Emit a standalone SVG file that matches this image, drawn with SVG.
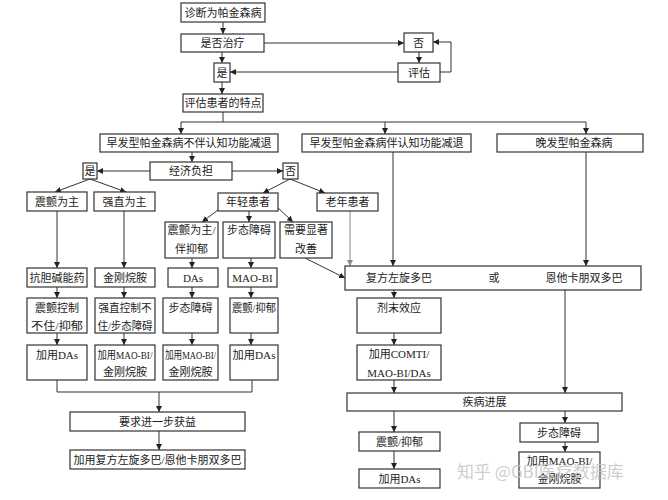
<svg xmlns="http://www.w3.org/2000/svg" width="668" height="500" viewBox="0 0 668 500">
<defs>
<marker id="ah" viewBox="0 0 6 6" refX="6" refY="3" markerWidth="6" markerHeight="6" orient="auto" markerUnits="userSpaceOnUse">
<path d="M0,0 L6,3 L0,6 z" fill="#222"/>
</marker>
<marker id="ahg" viewBox="0 0 6 6" refX="6" refY="3" markerWidth="6" markerHeight="6" orient="auto" markerUnits="userSpaceOnUse">
<path d="M0,0 L6,3 L0,6 z" fill="#888"/>
</marker>
</defs>
<style>
rect{fill:#fff;stroke:#333;stroke-width:1.2}
text{font-family:"Liberation Serif","Noto Sans CJK SC",serif;font-size:11px;fill:#222;text-anchor:middle}
.c line,.c polyline{stroke:#333;stroke-width:1;fill:none}
.c .a{marker-end:url(#ah)}
.c .g{stroke:#888;marker-end:url(#ahg)}
.wm{font-family:"Noto Sans CJK SC",sans-serif;font-size:17px;fill:#c4c4c4;fill-opacity:0.85;text-anchor:start}
</style>
<rect x="0" y="0" width="668" height="500" style="fill:#fff;stroke:none"/>
<g class="c" id="connectors">
<line class="a" x1="223" y1="22" x2="223" y2="34"/>
<line class="a" x1="264" y1="43" x2="404" y2="43"/>
<line class="a" x1="222" y1="52" x2="222" y2="63"/>
<line class="a" x1="419" y1="52" x2="419" y2="63"/>
<line class="a" x1="398" y1="72" x2="230" y2="72"/>
<polyline class="a" points="440,72 451,72 451,42 433,42"/>
<line class="a" x1="222" y1="82" x2="222" y2="94"/>
<line x1="223" y1="112" x2="223" y2="122"/>
<line x1="181" y1="122" x2="586" y2="122"/>
<line class="a" x1="181" y1="122" x2="181" y2="134"/>
<line class="a" x1="385" y1="122" x2="385" y2="134"/>
<line class="a" x1="586" y1="122" x2="586" y2="134"/>
<line class="a" x1="192" y1="152" x2="192" y2="162"/>
<line class="a" x1="150" y1="171" x2="97" y2="171"/>
<line class="a" x1="232" y1="171" x2="283" y2="171"/>
<line class="a" x1="90" y1="179" x2="55" y2="192"/>
<line class="a" x1="90" y1="179" x2="126" y2="192"/>
<line class="a" x1="290" y1="179" x2="263" y2="193"/>
<line class="a" x1="290" y1="179" x2="325" y2="193"/>
<line class="a" x1="222" y1="207" x2="202" y2="222"/>
<line class="a" x1="249" y1="211" x2="249" y2="222"/>
<line class="a" x1="277" y1="207" x2="293" y2="222"/>
<line class="a" x1="57" y1="211" x2="57" y2="268"/>
<line class="a" x1="124" y1="211" x2="124" y2="268"/>
<line class="a" x1="192" y1="258" x2="192" y2="268"/>
<line class="a" x1="251" y1="258" x2="251" y2="268"/>
<line class="a" x1="57" y1="287" x2="57" y2="298"/>
<line class="a" x1="124" y1="287" x2="124" y2="298"/>
<line class="a" x1="192" y1="287" x2="192" y2="298"/>
<line class="a" x1="251" y1="287" x2="251" y2="298"/>
<line class="a" x1="57" y1="333" x2="57" y2="345"/>
<line class="a" x1="124" y1="333" x2="124" y2="345"/>
<line class="a" x1="192" y1="333" x2="192" y2="345"/>
<line class="a" x1="251" y1="333" x2="251" y2="345"/>
<polyline points="57,380 57,392 252,392 252,380"/>
<line class="a" x1="159" y1="392" x2="159" y2="412"/>
<line class="a" x1="159" y1="431" x2="159" y2="450"/>
<line class="g" x1="350" y1="211" x2="350" y2="266"/>
<line class="a" x1="305" y1="258" x2="345" y2="278"/>
<line class="a" x1="393" y1="152" x2="393" y2="266"/>
<line class="a" x1="586" y1="152" x2="586" y2="266"/>
<line class="a" x1="394" y1="290" x2="394" y2="298"/>
<line class="a" x1="394" y1="333" x2="394" y2="345"/>
<line class="a" x1="394" y1="380" x2="394" y2="393"/>
<line class="a" x1="394" y1="411" x2="394" y2="432"/>
<line class="a" x1="394" y1="451" x2="394" y2="469"/>
<line class="a" x1="565" y1="290" x2="565" y2="393"/>
<line class="a" x1="565" y1="411" x2="565" y2="423"/>
<line class="a" x1="565" y1="442" x2="565" y2="452"/>
</g>
<g id="n1"><rect x="181" y="3" width="84" height="19"/><text x="223" y="16.5">诊断为帕金森病</text></g>
<g id="n2"><rect x="181" y="34" width="83" height="18"/><text x="222.5" y="47">是否治疗</text></g>
<g id="n3"><rect x="214" y="63" width="16" height="19"/><text x="222" y="76.5">是</text></g>
<g id="n4"><rect x="404" y="33" width="29" height="19"/><text x="418.5" y="46.5">否</text></g>
<g id="n5"><rect x="398" y="63" width="42" height="19"/><text x="419" y="76.5">评估</text></g>
<g id="n6"><rect x="183" y="94" width="80" height="18"/><text x="223" y="107">评估患者的特点</text></g>
<g id="n7"><rect x="100" y="134" width="178" height="18"/><text x="189" y="147">早发型帕金森病不伴认知功能减退</text></g>
<g id="n8"><rect x="302" y="134" width="169" height="18"/><text x="386.5" y="147">早发型帕金森病伴认知功能减退</text></g>
<g id="n9"><rect x="497" y="134" width="146" height="18"/><text x="574" y="147">晚发型帕金森病</text></g>
<g id="n10"><rect x="150" y="162" width="82" height="18"/><text x="191" y="175">经济负担</text></g>
<g id="n11"><rect x="83" y="163" width="14" height="16"/><text x="90" y="175">是</text></g>
<g id="n12"><rect x="283" y="163" width="15" height="16"/><text x="290.5" y="175">否</text></g>
<g id="n13"><rect x="27" y="192" width="60" height="19"/><text x="57" y="205.5">震颤为主</text></g>
<g id="n14"><rect x="94" y="192" width="61" height="19"/><text x="124.5" y="205.5">强直为主</text></g>
<g id="n15"><rect x="218" y="193" width="60" height="18"/><text x="248" y="206">年轻患者</text></g>
<g id="n16"><rect x="317" y="193" width="61" height="18"/><text x="347.5" y="206">老年患者</text></g>
<g id="n17"><rect x="165" y="222" width="53" height="36"/><text x="191.5" y="234" textLength="48" lengthAdjust="spacingAndGlyphs">震颤为主/</text><text x="191.5" y="253">伴抑郁</text></g>
<g id="n18"><rect x="223" y="222" width="52" height="36"/><text x="249" y="234">步态障碍</text></g>
<g id="n19"><rect x="280" y="222" width="52" height="36"/><text x="306" y="234">需要显著</text><text x="306" y="253">改善</text></g>
<g id="n20"><rect x="27" y="268" width="60" height="19"/><text x="57" y="281.5">抗胆碱能药</text></g>
<g id="n21"><rect x="95" y="268" width="60" height="19"/><text x="125" y="281.5">金刚烷胺</text></g>
<g id="n22"><rect x="168" y="268" width="50" height="19"/><text x="193" y="281.5">DAs</text></g>
<g id="n23"><rect x="228" y="268" width="49" height="19"/><text x="252.5" y="281.5">MAO-BI</text></g>
<g id="n24"><rect x="345" y="266" width="296" height="24"/><text x="399" y="282">复方左旋多巴</text><text x="494" y="282">或</text><text x="584" y="282">恩他卡朋双多巴</text></g>
<g id="n25"><rect x="27" y="298" width="60" height="35"/><text x="57" y="312">震颤控制</text><text x="57" y="330" textLength="52" lengthAdjust="spacingAndGlyphs">不住/抑郁</text></g>
<g id="n26"><rect x="95" y="298" width="60" height="35"/><text x="125" y="312" textLength="53" lengthAdjust="spacingAndGlyphs">强直控制不</text><text x="125" y="330" textLength="55" lengthAdjust="spacingAndGlyphs">住/步态障碍</text></g>
<g id="n27"><rect x="163" y="298" width="55" height="35"/><text x="190.5" y="312">步态障碍</text></g>
<g id="n28"><rect x="230" y="298" width="48" height="35"/><text x="254" y="312" textLength="44" lengthAdjust="spacingAndGlyphs">震颤/抑郁</text></g>
<g id="n29"><rect x="357" y="298" width="84" height="35"/><text x="399" y="312">剂末效应</text></g>
<g id="n30"><rect x="27" y="345" width="60" height="35"/><text x="57" y="359">加用DAs</text></g>
<g id="n31"><rect x="95" y="345" width="60" height="35"/><text x="125" y="359" textLength="55" lengthAdjust="spacingAndGlyphs">加用MAO-BI/</text><text x="125" y="376">金刚烷胺</text></g>
<g id="n32"><rect x="163" y="345" width="55" height="35"/><text x="190.5" y="359" textLength="51" lengthAdjust="spacingAndGlyphs">加用MAO-BI/</text><text x="190.5" y="376">金刚烷胺</text></g>
<g id="n33"><rect x="230" y="345" width="48" height="35"/><text x="254" y="359" textLength="43" lengthAdjust="spacingAndGlyphs">加用DAs</text></g>
<g id="n34"><rect x="357" y="345" width="84" height="35"/><text x="399" y="358">加用COMTI/</text><text x="399" y="377">MAO-BI/DAs</text></g>
<g id="n35"><rect x="347" y="393" width="275" height="18"/><text x="484.5" y="406">疾病进展</text></g>
<g id="n36"><rect x="70" y="412" width="175" height="19"/><text x="157.5" y="425.5">要求进一步获益</text></g>
<g id="n37"><rect x="70" y="450" width="175" height="19"/><text x="157.5" y="463.5">加用复方左旋多巴/恩他卡朋双多巴</text></g>
<g id="n38"><rect x="359" y="432" width="81" height="19"/><text x="399.5" y="445.5">震颤/抑郁</text></g>
<g id="n39"><rect x="520" y="423" width="78" height="19"/><text x="559" y="436.5">步态障碍</text></g>
<g id="n40"><rect x="359" y="469" width="81" height="19"/><text x="399.5" y="482.5">加用DAs</text></g>
<g id="n41"><rect x="519" y="452" width="81" height="36"/><text x="559.5" y="465">加用MAO-BI/</text><text x="559.5" y="483">金刚烷胺</text></g>
<text class="wm" x="457" y="478">知乎 @GBI医疗数据库</text>
</svg>
